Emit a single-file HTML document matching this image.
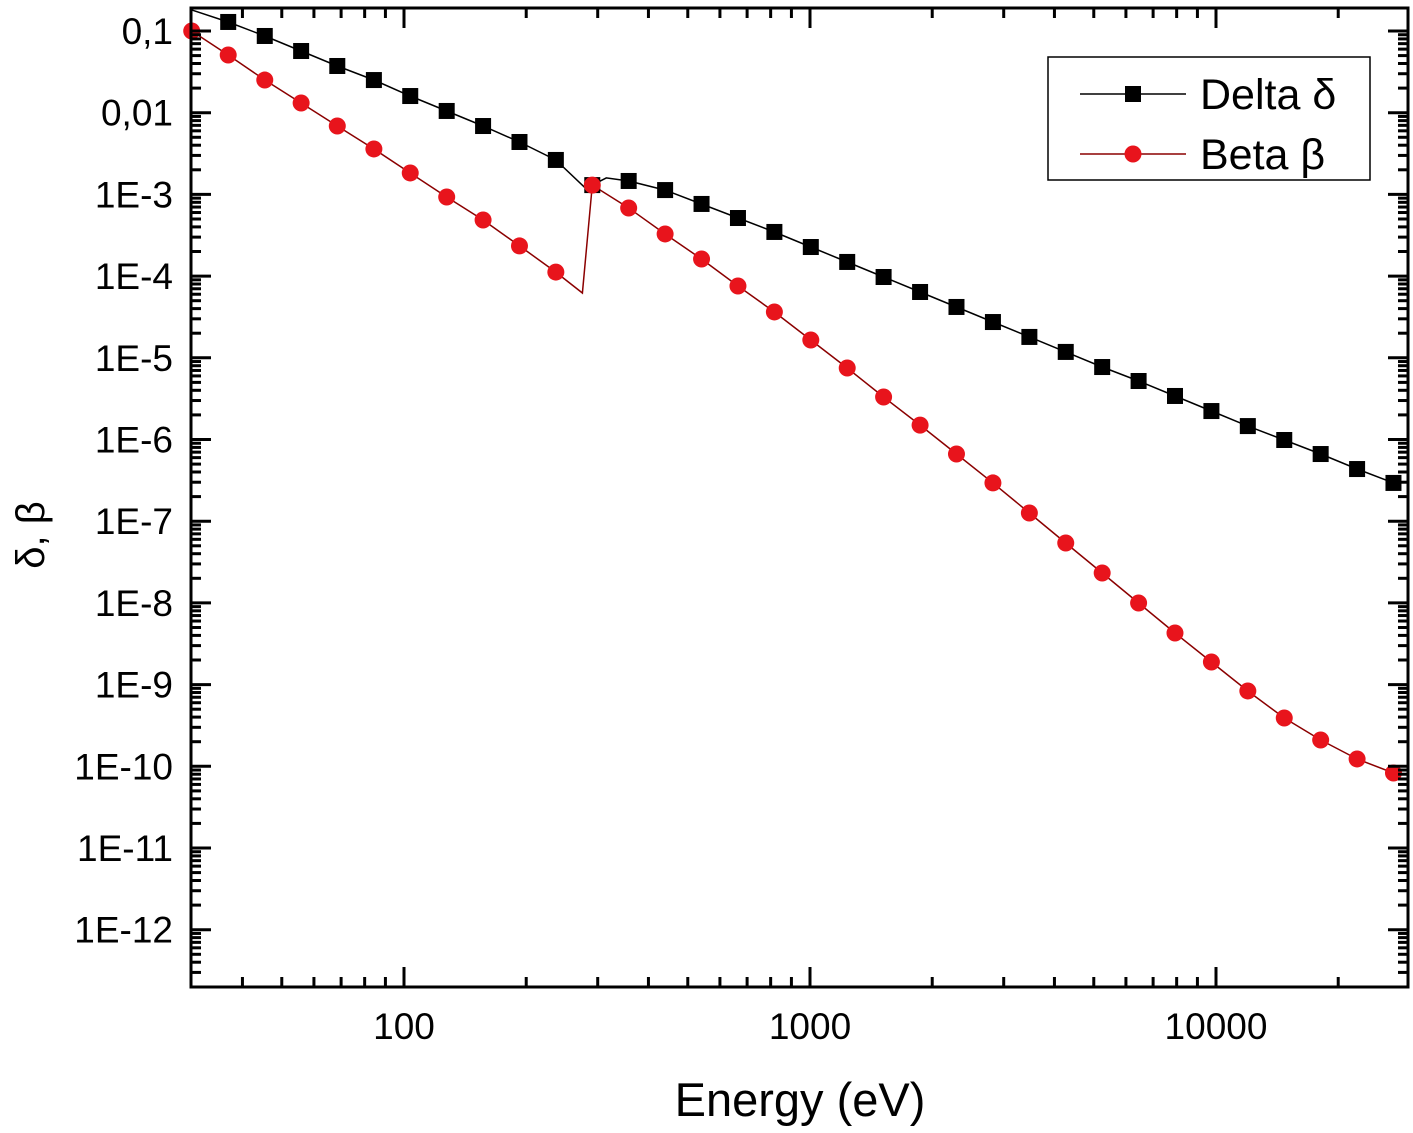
<!DOCTYPE html>
<html><head><meta charset="utf-8"><style>
body{margin:0;background:#fff;}
svg text{font-family:"Liberation Sans",Arial,sans-serif;fill:#000;}
</style></head><body>
<svg id="chart" width="1413" height="1128" viewBox="0 0 1413 1128" xmlns="http://www.w3.org/2000/svg">
<rect width="1413" height="1128" fill="#fff"/>
<g id="grid"></g>
<g id="series"></g>
<g id="axes"></g>
<g id="legend">
<rect x="1048" y="57" width="322" height="123" fill="#fff" stroke="#000" stroke-width="1.5"/>
<g>
<line x1="1080" y1="94" x2="1186" y2="94" stroke="#000" stroke-width="1.5"/>
<rect x="1125" y="86" width="16" height="16" fill="#000"/>
<text x="1200" y="109" font-size="43">Delta δ</text></g>
<g>
<line x1="1080" y1="154" x2="1186" y2="154" stroke="#8b0000" stroke-width="1.5"/>
<circle cx="1133" cy="154" r="8.5" fill="#e8141c"/>
<text x="1200" y="169" font-size="43">Beta β</text></g>
</g>
<text x="800" y="1116" font-size="47" text-anchor="middle">Energy (eV)</text>
<text transform="translate(44,535) rotate(-90)" font-size="40" text-anchor="middle">δ, β</text>
</svg>
<script>
const energies=[30,36.9,45.4,55.8,68.5,84.3,103.6,127.4,156.6,192.5,236.6,290.9,357.6,439.7,540.6,664.6,817.1,1004.6,1235,1518,1867,2295,2822,3470,4265,5244,6447,7925,9743,11978,14727,18105,22260,27360];
const deltaVals=[0.181,0.129,0.0869,0.0569,0.0373,0.0251,0.0160,0.0105,6.87e-3,4.38e-3,2.64e-3,1.30e-3,1.46e-3,1.13e-3,7.64e-4,5.14e-4,3.47e-4,2.27e-4,1.49e-4,9.75e-5,6.39e-5,4.19e-5,2.74e-5,1.80e-5,1.18e-5,7.71e-6,5.20e-6,3.41e-6,2.23e-6,1.46e-6,9.86e-7,6.64e-7,4.35e-7,2.94e-7];
const betaVals=[0.1,0.0508,0.0251,0.01315,6.87e-3,3.60e-3,1.83e-3,9.29e-4,4.86e-4,2.34e-4,1.12e-4,1.30e-3,6.82e-4,3.28e-4,1.62e-4,7.57e-5,3.64e-5,1.65e-5,7.50e-6,3.31e-6,1.50e-6,6.64e-7,2.94e-7,1.26e-7,5.41e-8,2.32e-8,9.97e-9,4.28e-9,1.89e-9,8.36e-10,3.90e-10,2.10e-10,1.23e-10,8.28e-11];
const deltaEdgeE=[278,315];
const deltaEdgeV=[1.23e-3,1.59e-3];
const betaEdgeE=[275];
const betaEdgeV=[6.21e-5];
const xTicks=[100,1000,10000];
const xTickLabels=["100","1000","10000"];
const yTickExp=[-1,-2,-3,-4,-5,-6,-7,-8,-9,-10,-11,-12];
const yTickLabels=["0,1","0,01","1E-3","1E-4","1E-5","1E-6","1E-7","1E-8","1E-9","1E-10","1E-11","1E-12"];

const L=191,R=1408,T=8,B=987;
const X=e=>404+406*(Math.log10(e)-2);
const Y=v=>31+81.7*(-1-Math.log10(v));
const NS="http://www.w3.org/2000/svg";
function mk(tag,parent,attrs){const el=document.createElementNS(NS,tag);for(const k in attrs)el.setAttribute(k,attrs[k]);parent.appendChild(el);return el;}
const axes=document.getElementById('axes'),series=document.getElementById('series');

const fr=mk('rect',axes,{x:L,y:T,width:R-L,height:B-T,fill:'none',stroke:'#000','stroke-width':3});



for(let d=1;d<=4;d++){for(let m=1;m<10;m++){const e=m*Math.pow(10,d);const x=X(e);if(x<L+1||x>R-1)continue;const len=m===1?20:10;
mk('line',axes,{x1:x,y1:B,x2:x,y2:B-len,stroke:'#000','stroke-width':3});
mk('line',axes,{x1:x,y1:T,x2:x,y2:T+len,stroke:'#000','stroke-width':3});}}
xTicks.forEach((e,i)=>{const t=mk('text',axes,{x:X(e),y:1039,'font-size':37,'text-anchor':'middle'});t.textContent=xTickLabels[i];

});
for(let d=-13;d<=-1;d++){for(let m=1;m<10;m++){const v=m*Math.pow(10,d);const y=Y(v);if(y<T+1||y>B-1)continue;const len=m===1?20:10;
mk('line',axes,{x1:L,y1:y,x2:L+len,y2:y,stroke:'#000','stroke-width':3});
mk('line',axes,{x1:R,y1:y,x2:R-len,y2:y,stroke:'#000','stroke-width':3});}}
yTickExp.forEach((p,i)=>{const t=mk('text',axes,{x:173,y:Y(Math.pow(10,p))+13,'font-size':37,'text-anchor':'end'});t.textContent=yTickLabels[i];

});

function linePts(vals,eE,eV){const pts=energies.map((e,i)=>[e,vals[i]]);eE.forEach((e,i)=>pts.push([e,eV[i]]));pts.sort((a,b)=>a[0]-b[0]);
return pts.map(p=>X(p[0]).toFixed(1)+','+Y(p[1]).toFixed(1)).join(' ');}
const cp=mk('clipPath',series,{id:'clip'});mk('rect',cp,{x:L,y:T,width:R-L,height:B-T});
const dl=mk('polyline',series,{points:linePts(deltaVals,deltaEdgeE,deltaEdgeV),fill:'none',stroke:'#000','stroke-width':1.5,'clip-path':'url(#clip)'});


const bl=mk('polyline',series,{points:linePts(betaVals,betaEdgeE,betaEdgeV),fill:'none',stroke:'#8b0000','stroke-width':1.5,'clip-path':'url(#clip)'});


energies.forEach((e,i)=>{if(i===0)return;const s=mk('rect',series,{x:X(e)-8,y:Y(deltaVals[i])-8,width:16,height:16,fill:'#000'});

});
energies.forEach((e,i)=>{const c=mk('circle',series,{cx:X(e),cy:Y(betaVals[i]),r:8.5,fill:'#e8141c'});

});
</script>
</body></html>
